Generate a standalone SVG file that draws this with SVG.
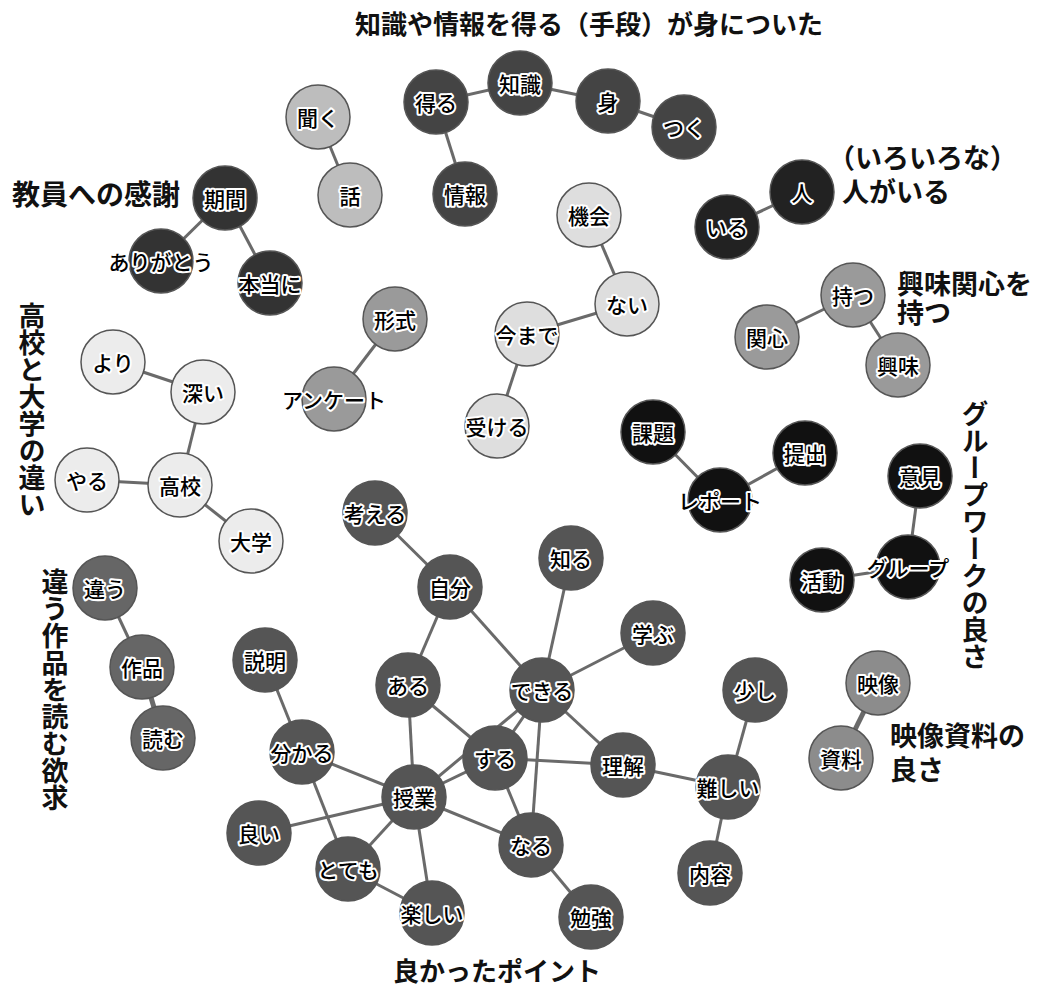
<svg xmlns="http://www.w3.org/2000/svg" width="1042" height="989" viewBox="0 0 1042 989">
<style>
.e{stroke:#6a6a6a;stroke-width:3;fill:none}
.n{stroke:#555;stroke-width:1.5}
.t{font-family:"Noto Sans CJK JP","Noto Sans",sans-serif;font-size:21px;font-weight:500;fill:#000;stroke:#fff;stroke-width:4;stroke-linejoin:round;paint-order:stroke;text-anchor:middle;dominant-baseline:central}
.lb{font-family:"Noto Sans CJK JP","Noto Sans",sans-serif;font-size:27px;font-weight:bold;fill:#111}
.v{writing-mode:vertical-rl}
.c1{fill:#444}.c2{fill:#bdbdbd}.c3{fill:#333}.c4{fill:#222}.c5{fill:#9a9a9a}.c6{fill:#dedede}.c7{fill:#ececec}.c8{fill:#111}.c9{fill:#666}.c10{fill:#555}.c11{fill:#8c8c8c}
</style>
<rect width="1042" height="989" fill="#fff"/>
<g id="labels">
<text class="lb" x="355" y="34" style="font-size:26px">知識や情報を得る（手段）が身についた</text>
<text class="lb" x="12" y="205" style="font-size:28px">教員への感謝</text>
<text class="lb" x="828" y="168">（いろいろな）<tspan x="842" y="202">人がいる</tspan></text>
<text class="lb" x="897" y="294">興味関心を<tspan x="897" y="323">持つ</tspan></text>
<text class="lb v" x="32" y="302">高校と大学の違い</text>
<text class="lb v" x="55" y="568">違う作品を読む欲求</text>
<text class="lb v" x="975" y="400">グループワークの良さ</text>
<text class="lb" x="890" y="746">映像資料の<tspan x="890" y="780">良さ</tspan></text>
<text class="lb" x="393" y="981" style="font-size:26px">良かったポイント</text>
</g>
<g id="connectors">
<line class="e" x1="436" y1="102" x2="520" y2="83"/>
<line class="e" x1="520" y1="83" x2="608" y2="101"/>
<line class="e" x1="608" y1="101" x2="684" y2="127"/>
<line class="e" x1="436" y1="102" x2="465" y2="194"/>
<line class="e" x1="318" y1="117" x2="350" y2="195"/>
<line class="e" x1="225" y1="198" x2="161" y2="261"/>
<line class="e" x1="225" y1="198" x2="270" y2="283"/>
<line class="e" x1="802" y1="192" x2="727" y2="227"/>
<line class="e" x1="853" y1="295" x2="767" y2="337"/>
<line class="e" x1="853" y1="295" x2="898" y2="365"/>
<line class="e" x1="589" y1="215" x2="627" y2="304"/>
<line class="e" x1="627" y1="304" x2="527" y2="334"/>
<line class="e" x1="527" y1="334" x2="497" y2="426"/>
<line class="e" x1="395" y1="319" x2="334" y2="399"/>
<line class="e" x1="113" y1="362" x2="203" y2="392"/>
<line class="e" x1="203" y1="392" x2="180" y2="485"/>
<line class="e" x1="87" y1="480" x2="180" y2="485"/>
<line class="e" x1="180" y1="485" x2="251" y2="541"/>
<line class="e" x1="653" y1="432" x2="720" y2="500"/>
<line class="e" x1="720" y1="500" x2="805" y2="453"/>
<line class="e" x1="920" y1="476" x2="908" y2="567"/>
<line class="e" x1="908" y1="567" x2="822" y2="580"/>
<line class="e" x1="105" y1="588" x2="142" y2="667"/>
<line class="e" x1="142" y1="667" x2="163" y2="738" style="stroke-width:5"/>
<line class="e" x1="878" y1="683" x2="841" y2="758" style="stroke-width:5"/>
<line class="e" x1="375" y1="513" x2="450" y2="587"/>
<line class="e" x1="450" y1="587" x2="408" y2="685"/>
<line class="e" x1="450" y1="587" x2="542" y2="690"/>
<line class="e" x1="571" y1="558" x2="542" y2="690"/>
<line class="e" x1="653" y1="633" x2="542" y2="690"/>
<line class="e" x1="265" y1="660" x2="302" y2="752"/>
<line class="e" x1="302" y1="752" x2="414" y2="797"/>
<line class="e" x1="302" y1="752" x2="348" y2="869"/>
<line class="e" x1="259" y1="833" x2="414" y2="797"/>
<line class="e" x1="348" y1="869" x2="414" y2="797"/>
<line class="e" x1="348" y1="869" x2="432" y2="913"/>
<line class="e" x1="414" y1="797" x2="432" y2="913"/>
<line class="e" x1="408" y1="685" x2="414" y2="797"/>
<line class="e" x1="408" y1="685" x2="495" y2="758"/>
<line class="e" x1="414" y1="797" x2="495" y2="758"/>
<line class="e" x1="414" y1="797" x2="542" y2="690"/>
<line class="e" x1="495" y1="758" x2="542" y2="690"/>
<line class="e" x1="542" y1="690" x2="531" y2="845"/>
<line class="e" x1="495" y1="758" x2="531" y2="845"/>
<line class="e" x1="414" y1="797" x2="531" y2="845"/>
<line class="e" x1="495" y1="758" x2="623" y2="765"/>
<line class="e" x1="542" y1="690" x2="623" y2="765"/>
<line class="e" x1="623" y1="765" x2="728" y2="787"/>
<line class="e" x1="755" y1="690" x2="728" y2="787"/>
<line class="e" x1="728" y1="787" x2="710" y2="873"/>
<line class="e" x1="531" y1="845" x2="591" y2="917"/>
</g>
<g id="n-chishiki"><circle class="n c1" cx="520" cy="83" r="32"/><text class="t" x="520" y="83">知識</text></g>
<g id="n-eru"><circle class="n c1" cx="436" cy="102" r="32"/><text class="t" x="436" y="102">得る</text></g>
<g id="n-mi"><circle class="n c1" cx="608" cy="101" r="32"/><text class="t" x="608" y="101">身</text></g>
<g id="n-tsuku"><circle class="n c1" cx="684" cy="127" r="32"/><text class="t" x="684" y="127">つく</text></g>
<g id="n-jouhou"><circle class="n c1" cx="465" cy="194" r="32"/><text class="t" x="465" y="194">情報</text></g>
<g id="n-kiku"><circle class="n c2" cx="318" cy="117" r="32"/><text class="t" x="318" y="117">聞く</text></g>
<g id="n-hanashi"><circle class="n c2" cx="350" cy="195" r="32"/><text class="t" x="350" y="195">話</text></g>
<g id="n-kikan"><circle class="n c3" cx="225" cy="198" r="32"/><text class="t" x="225" y="198">期間</text></g>
<g id="n-arigatou"><circle class="n c3" cx="161" cy="261" r="32"/><text class="t" x="161" y="261">ありがとう</text></g>
<g id="n-hontou"><circle class="n c3" cx="270" cy="283" r="32"/><text class="t" x="270" y="283">本当に</text></g>
<g id="n-hito"><circle class="n c4" cx="802" cy="192" r="32"/><text class="t" x="802" y="192">人</text></g>
<g id="n-iru"><circle class="n c4" cx="727" cy="227" r="32"/><text class="t" x="727" y="227">いる</text></g>
<g id="n-motsu"><circle class="n c5" cx="853" cy="295" r="32"/><text class="t" x="853" y="295">持つ</text></g>
<g id="n-kanshin"><circle class="n c5" cx="767" cy="337" r="32"/><text class="t" x="767" y="337">関心</text></g>
<g id="n-kyoumi"><circle class="n c5" cx="898" cy="365" r="32"/><text class="t" x="898" y="365">興味</text></g>
<g id="n-kikai"><circle class="n c6" cx="589" cy="215" r="32"/><text class="t" x="589" y="215">機会</text></g>
<g id="n-nai"><circle class="n c6" cx="627" cy="304" r="32"/><text class="t" x="627" y="304">ない</text></g>
<g id="n-imamade"><circle class="n c6" cx="527" cy="334" r="32"/><text class="t" x="527" y="334">今まで</text></g>
<g id="n-ukeru"><circle class="n c6" cx="497" cy="426" r="32"/><text class="t" x="497" y="426">受ける</text></g>
<g id="n-keishiki"><circle class="n c5" cx="395" cy="319" r="32"/><text class="t" x="395" y="319">形式</text></g>
<g id="n-anketo"><circle class="n c5" cx="334" cy="399" r="32"/><text class="t" x="334" y="399">アンケート</text></g>
<g id="n-yori"><circle class="n c7" cx="113" cy="362" r="32"/><text class="t" x="113" y="362">より</text></g>
<g id="n-fukai"><circle class="n c7" cx="203" cy="392" r="32"/><text class="t" x="203" y="392">深い</text></g>
<g id="n-yaru"><circle class="n c7" cx="87" cy="480" r="32"/><text class="t" x="87" y="480">やる</text></g>
<g id="n-koukou"><circle class="n c7" cx="180" cy="485" r="32"/><text class="t" x="180" y="485">高校</text></g>
<g id="n-daigaku"><circle class="n c7" cx="251" cy="541" r="32"/><text class="t" x="251" y="541">大学</text></g>
<g id="n-kadai"><circle class="n c8" cx="653" cy="432" r="32"/><text class="t" x="653" y="432">課題</text></g>
<g id="n-repoto"><circle class="n c8" cx="720" cy="500" r="32"/><text class="t" x="720" y="500">レポート</text></g>
<g id="n-teishutsu"><circle class="n c8" cx="805" cy="453" r="32"/><text class="t" x="805" y="453">提出</text></g>
<g id="n-iken"><circle class="n c8" cx="920" cy="476" r="32"/><text class="t" x="920" y="476">意見</text></g>
<g id="n-group"><circle class="n c8" cx="908" cy="567" r="32"/><text class="t" x="908" y="567">グループ</text></g>
<g id="n-katsudou"><circle class="n c8" cx="822" cy="580" r="32"/><text class="t" x="822" y="580">活動</text></g>
<g id="n-chigau"><circle class="n c9" cx="105" cy="588" r="32"/><text class="t" x="105" y="588">違う</text></g>
<g id="n-sakuhin"><circle class="n c9" cx="142" cy="667" r="32"/><text class="t" x="142" y="667">作品</text></g>
<g id="n-yomu"><circle class="n c9" cx="163" cy="738" r="32"/><text class="t" x="163" y="738">読む</text></g>
<g id="n-eizou"><circle class="n c11" cx="878" cy="683" r="32"/><text class="t" x="878" y="683">映像</text></g>
<g id="n-shiryou"><circle class="n c11" cx="841" cy="758" r="32"/><text class="t" x="841" y="758">資料</text></g>
<g id="n-kangaeru"><circle class="n c10" cx="375" cy="513" r="32"/><text class="t" x="375" y="513">考える</text></g>
<g id="n-jibun"><circle class="n c10" cx="450" cy="587" r="32"/><text class="t" x="450" y="587">自分</text></g>
<g id="n-shiru"><circle class="n c10" cx="571" cy="558" r="32"/><text class="t" x="571" y="558">知る</text></g>
<g id="n-manabu"><circle class="n c10" cx="653" cy="633" r="32"/><text class="t" x="653" y="633">学ぶ</text></g>
<g id="n-setsumei"><circle class="n c10" cx="265" cy="660" r="32"/><text class="t" x="265" y="660">説明</text></g>
<g id="n-aru"><circle class="n c10" cx="408" cy="685" r="32"/><text class="t" x="408" y="685">ある</text></g>
<g id="n-dekiru"><circle class="n c10" cx="542" cy="690" r="32"/><text class="t" x="542" y="690">できる</text></g>
<g id="n-wakaru"><circle class="n c10" cx="302" cy="752" r="32"/><text class="t" x="302" y="752">分かる</text></g>
<g id="n-suru"><circle class="n c10" cx="495" cy="758" r="32"/><text class="t" x="495" y="758">する</text></g>
<g id="n-rikai"><circle class="n c10" cx="623" cy="765" r="32"/><text class="t" x="623" y="765">理解</text></g>
<g id="n-jugyou"><circle class="n c10" cx="414" cy="797" r="32"/><text class="t" x="414" y="797">授業</text></g>
<g id="n-yoi"><circle class="n c10" cx="259" cy="833" r="32"/><text class="t" x="259" y="833">良い</text></g>
<g id="n-totemo"><circle class="n c10" cx="348" cy="869" r="32"/><text class="t" x="348" y="869">とても</text></g>
<g id="n-naru"><circle class="n c10" cx="531" cy="845" r="32"/><text class="t" x="531" y="845">なる</text></g>
<g id="n-tanoshii"><circle class="n c10" cx="432" cy="913" r="32"/><text class="t" x="432" y="913">楽しい</text></g>
<g id="n-benkyou"><circle class="n c10" cx="591" cy="917" r="32"/><text class="t" x="591" y="917">勉強</text></g>
<g id="n-sukoshi"><circle class="n c10" cx="755" cy="690" r="32"/><text class="t" x="755" y="690">少し</text></g>
<g id="n-muzukashii"><circle class="n c10" cx="728" cy="787" r="32"/><text class="t" x="728" y="787">難しい</text></g>
<g id="n-naiyou"><circle class="n c10" cx="710" cy="873" r="32"/><text class="t" x="710" y="873">内容</text></g>
</svg>
